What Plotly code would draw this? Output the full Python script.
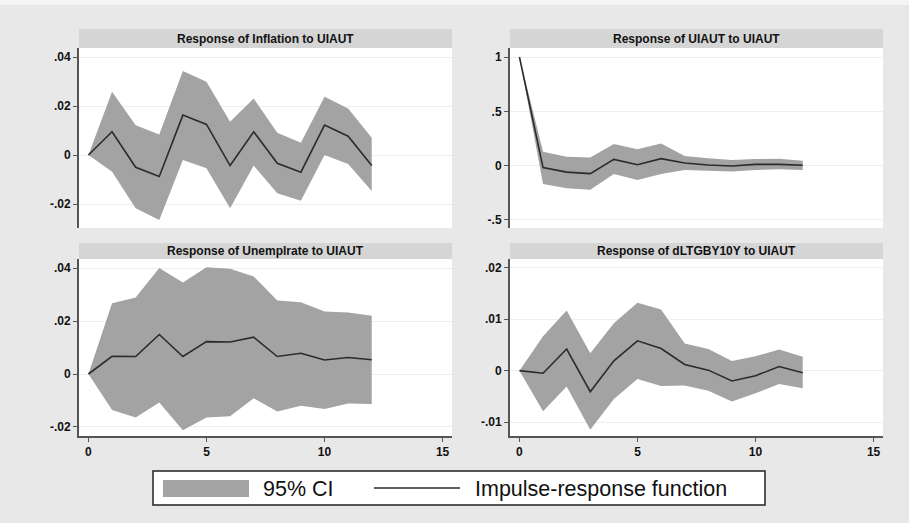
import plotly.graph_objects as go

steps = list(range(13))

infl_irf = [0, 0.0095, -0.005, -0.0088, 0.0163, 0.0125, -0.0043, 0.0095, -0.0034, -0.007, 0.0122, 0.0077, -0.0043]
infl_hi = [0, 0.0258, 0.0122, 0.0084, 0.0343, 0.0299, 0.0136, 0.0231, 0.0091, 0.005, 0.0238, 0.019, 0.0071]
infl_lo = [0, -0.0068, -0.0217, -0.0265, -0.002, -0.0054, -0.0217, -0.0043, -0.0156, -0.0187, 0.0, -0.0037, -0.0147]

uiaut_irf = [1.0, -0.018, -0.06, -0.073, 0.058, 0.009, 0.064, 0.024, 0.006, -0.003, 0.012, 0.012, 0.003]
uiaut_hi = [1.0, 0.128, 0.083, 0.076, 0.199, 0.15, 0.205, 0.089, 0.067, 0.052, 0.061, 0.064, 0.046]
uiaut_lo = [1.0, -0.168, -0.208, -0.223, -0.076, -0.131, -0.076, -0.04, -0.046, -0.055, -0.04, -0.034, -0.04]

unemp_irf = [0, 0.0067, 0.0066, 0.0149, 0.0066, 0.0122, 0.0121, 0.0139, 0.0066, 0.0078, 0.0053, 0.0062, 0.0054]
unemp_hi = [0, 0.0267, 0.0289, 0.040, 0.0345, 0.0403, 0.0397, 0.0368, 0.0277, 0.0271, 0.0236, 0.0232, 0.022]
unemp_lo = [0, -0.0136, -0.0164, -0.0108, -0.0212, -0.0164, -0.0159, -0.0092, -0.0142, -0.012, -0.0132, -0.0111, -0.0113]

dltg_irf = [0, -0.0005, 0.0042, -0.0041, 0.0019, 0.0058, 0.0043, 0.0012, 0.0001, -0.002, -0.001, 0.0008, -0.0004]
dltg_hi = [0, 0.0067, 0.0117, 0.0034, 0.0092, 0.0132, 0.0119, 0.0053, 0.0042, 0.0019, 0.0028, 0.0041, 0.0027]
dltg_lo = [0, -0.0079, -0.0031, -0.0115, -0.0055, -0.0016, -0.003, -0.0029, -0.0039, -0.006, -0.0044, -0.0026, -0.0034]

titles = ["Response of Inflation to UIAUT", "Response of UIAUT to UIAUT",
          "Response of Unemplrate to UIAUT", "Response of dLTGBY10Y to UIAUT"]

x_tickvals = [0, 5, 10, 15]
x_ticktext = ["0", "5", "10", "15"]
y_ticks = [
    ([-0.02, 0, 0.02, 0.04], ["-.02", "0", ".02", ".04"]),
    ([-0.5, 0, 0.5, 1], ["-.5", "0", ".5", "1"]),
    ([-0.02, 0, 0.02, 0.04], ["-.02", "0", ".02", ".04"]),
    ([-0.01, 0, 0.01, 0.02], ["-.01", "0", ".01", ".02"]),
]
y_ranges = [[-0.0298, 0.0437], [-0.574, 1.083], [-0.0234, 0.0434], [-0.0127, 0.0217]]

legend_labels = ["95% CI", "Impulse-response function"]

W, H = 909, 523
def px(x): return x / W
def py(y): return (H - y) / H

panels = [(infl_irf, infl_hi, infl_lo), (uiaut_irf, uiaut_hi, uiaut_lo),
          (unemp_irf, unemp_hi, unemp_lo), (dltg_irf, dltg_hi, dltg_lo)]

xdoms = [[px(79), px(452)], [px(510), px(883)]]
ydoms = [[py(228), py(48)], [py(436), py(259)]]
strips = [(29, 48), (243, 259)]

FILL = "#a3a3a3"
LINE = "#2b2b2b"
AX = "#555555"
FONT = "Liberation Sans, Arial, sans-serif"

fig = go.Figure()
layout = dict(width=W, height=H, margin=dict(l=0, r=0, t=0, b=0),
              paper_bgcolor="#e8e8e8", plot_bgcolor="white", showlegend=False)
shapes = []
annotations = []

for i, (irf, hi, lo) in enumerate(panels):
    r, c = divmod(i, 2)
    xa = "x" if i == 0 else f"x{i+1}"
    ya = "y" if i == 0 else f"y{i+1}"
    fig.add_trace(go.Scatter(x=steps, y=hi, mode="lines", line=dict(width=0, color=FILL),
                             xaxis=xa, yaxis=ya, hoverinfo="skip"))
    fig.add_trace(go.Scatter(x=steps, y=lo, mode="lines", line=dict(width=0, color=FILL),
                             fill="tonexty", fillcolor=FILL, xaxis=xa, yaxis=ya, hoverinfo="skip"))
    fig.add_trace(go.Scatter(x=steps, y=irf, mode="lines", line=dict(width=1.6, color=LINE),
                             xaxis=xa, yaxis=ya))
    xk = "xaxis" if i == 0 else f"xaxis{i+1}"
    yk = "yaxis" if i == 0 else f"yaxis{i+1}"
    bottom = r == 1
    layout[xk] = dict(domain=xdoms[c], range=[-0.4, 15.4], anchor=ya,
                      tickvals=x_tickvals, ticktext=x_ticktext, showticklabels=bottom,
                      showgrid=False, zeroline=False, showline=bottom, linecolor=AX, linewidth=2,
                      ticks="outside" if bottom else "", ticklen=4, tickcolor=AX, tickwidth=1.2,
                      tickfont=dict(family=FONT, size=12, color="#111", weight="bold"))
    tv, tt = y_ticks[i]
    layout[yk] = dict(domain=ydoms[r], range=y_ranges[i], anchor=xa,
                      tickvals=tv, ticktext=tt, showgrid=True, gridcolor="#eeeeee", gridwidth=1,
                      zeroline=False, showline=True, linecolor=AX, linewidth=2,
                      ticks="outside", ticklen=4, tickcolor=AX, tickwidth=1.2,
                      tickfont=dict(family=FONT, size=12, color="#111", weight="bold"))
    s0, s1 = strips[r]
    shapes.append(dict(type="rect", xref="paper", yref="paper", x0=xdoms[c][0], x1=xdoms[c][1],
                       y0=py(s1), y1=py(s0), fillcolor="#d5d5d5", line=dict(width=0), layer="below"))
    annotations.append(dict(text=titles[i], xref="paper", yref="paper",
                            x=(xdoms[c][0] + xdoms[c][1]) / 2, y=py((s0 + s1) / 2),
                            showarrow=False, xanchor="center", yanchor="middle",
                            font=dict(family=FONT, size=12, color="#111", weight="bold")))

# top light strip
shapes.append(dict(type="rect", xref="paper", yref="paper", x0=0, x1=1, y0=py(5), y1=1,
                   fillcolor="#f4f4f4", line=dict(width=0), layer="below"))
# legend
shapes.append(dict(type="rect", xref="paper", yref="paper", x0=px(153), x1=px(765),
                   y0=py(505), y1=py(471), fillcolor="white", line=dict(color="#222", width=1.5)))
shapes.append(dict(type="rect", xref="paper", yref="paper", x0=px(163), x1=px(249),
                   y0=py(497), y1=py(480), fillcolor=FILL, line=dict(width=0)))
shapes.append(dict(type="line", xref="paper", yref="paper", x0=px(374), x1=px(460),
                   y0=py(488), y1=py(488), line=dict(color=LINE, width=1.6)))
annotations.append(dict(text=legend_labels[0], xref="paper", yref="paper", x=px(261), y=py(488.5),
                        showarrow=False, xanchor="left", yanchor="middle",
                        font=dict(family=FONT, size=21.5, color="#111")))
annotations.append(dict(text=legend_labels[1], xref="paper", yref="paper", x=px(473), y=py(488.5),
                        showarrow=False, xanchor="left", yanchor="middle",
                        font=dict(family=FONT, size=21.5, color="#111")))

layout["shapes"] = shapes
layout["annotations"] = annotations
fig.update_layout(**layout)
fig.write_html("out.html")
